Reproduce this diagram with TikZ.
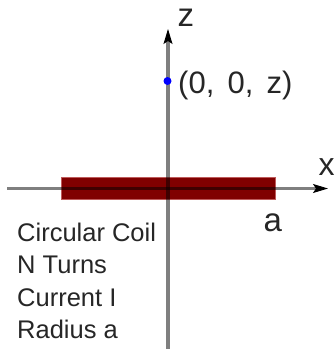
\documentclass[tikz,border=0pt]{standalone}
\usepackage{fontspec}
\setmainfont{Liberation Sans}
\usetikzlibrary{arrows.meta}
\definecolor{coilred}{RGB}{128,0,0}
\definecolor{coiledge}{RGB}{190,90,90}
\definecolor{dotblue}{RGB}{0,0,255}
\tikzset{
  axisline/.style={line width=3.3pt, black, opacity=0.5},
  axistip/.style={-{Stealth[length=15pt,width=9pt,inset=3pt]}, line width=1pt, black},
  lbl/.style={anchor=base west, inner sep=0pt, text=black!85},
}
\newcommand{\fsz}[1]{\fontsize{#1}{#1}\selectfont}
\begin{document}
\begin{tikzpicture}[x=1pt,y=-1pt]
\useasboundingbox (0,0) rectangle (336,349);
% coil
\node[draw=coiledge, line width=0.8pt, fill=coilred, minimum width=214pt, minimum height=22pt, inner sep=0pt, anchor=north west] (coil) at (61,177) {};
% axes coordinates
\coordinate (xs) at (7,188.5);
\coordinate (xe) at (328,188.5);
\coordinate (xb) at (318,188.5);
\coordinate (zs) at (168,349);
\coordinate (ze) at (168,29);
\coordinate (zb) at (168,39);
\draw[axisline] (xs) -- (xb);
\draw[axisline] (zs) -- (zb);
\draw[axistip] (xb) -- (xe);
\draw[axistip] (zb) -- (ze);
% point
\node[circle, fill=dotblue, inner sep=0pt, minimum size=8pt] (pt) at (167.5,81) {};
% labels
\node[lbl] (zl) at (177.5,26.5) {\fsz{33}z};
\node[lbl] (xl) at (318.5,175) {\fsz{32}x};
\node[lbl] (al) at (263.5,231.5) {\fsz{33}a};
\node[lbl] (pl) at (178,93) {\fsz{31}(0,\hspace{0.15em} 0,\hspace{0.15em} z)};
\node[lbl] (t1) at (17,241) {\fsz{25.5}Circular Coil};
\node[lbl] (t2) at (17,273.5) {\fsz{25.5}N Turns};
\node[lbl] (t3) at (17,306) {\fsz{25.5}Current I};
\node[lbl] (t4) at (17,338.3) {\fsz{25.5}Radius a};
\end{tikzpicture}
\end{document}
